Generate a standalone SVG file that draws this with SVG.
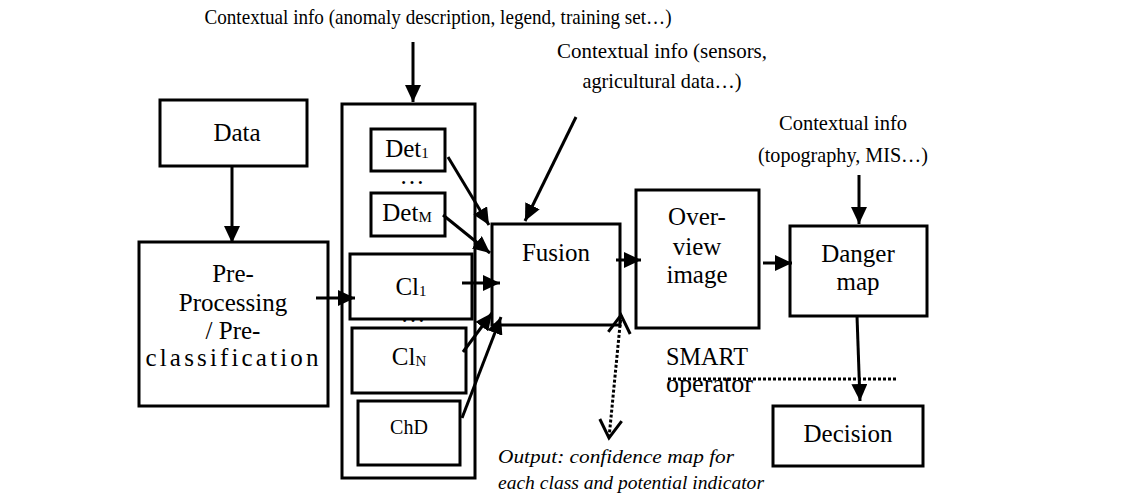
<svg xmlns="http://www.w3.org/2000/svg" width="1145" height="497" viewBox="0 0 1145 497">
<defs>
<style>
.box{fill:#fff;stroke:#000;stroke-width:3}
.frame{fill:none;stroke:#000;stroke-width:3}
.t{font-family:"Liberation Serif","Times New Roman",serif;font-size:25px;fill:#000;text-anchor:middle}
.c{font-family:"Liberation Serif","Times New Roman",serif;font-size:21.5px;fill:#000;text-anchor:middle}
.i{font-family:"Liberation Serif","Times New Roman",serif;font-size:19.5px;font-style:italic;fill:#000}
.ln{fill:none;stroke:#000;stroke-width:3}
.dot{fill:none;stroke:#000;stroke-width:3;stroke-dasharray:3 2}
.sub{font-size:15px}
</style>
<marker id="ah" markerUnits="userSpaceOnUse" markerWidth="18" markerHeight="16" refX="17" refY="8" orient="auto">
<path d="M0,0 L17,8 L0,16 z" fill="#000"/>
</marker>
<marker id="oh" markerUnits="userSpaceOnUse" markerWidth="24" markerHeight="26" refX="20" refY="13" orient="auto">
<path d="M2,2 L20,13 L2,24" fill="none" stroke="#000" stroke-width="3"/>
</marker>
<marker id="ohs" markerUnits="userSpaceOnUse" markerWidth="24" markerHeight="26" refX="4" refY="13" orient="auto">
<path d="M22,2 L4,13 L22,24" fill="none" stroke="#000" stroke-width="3"/>
</marker>
</defs>
<rect width="1145" height="497" fill="#fff"/>

<g id="ctx-top">
<text class="c" x="438" y="24" textLength="467" lengthAdjust="spacingAndGlyphs">Contextual info (anomaly description, legend, training set…)</text>
</g>
<g id="ctx-sensors">
<text class="c" x="662" y="58" textLength="210" lengthAdjust="spacingAndGlyphs">Contextual info (sensors,</text>
<text class="c" x="662" y="88" textLength="159" lengthAdjust="spacingAndGlyphs">agricultural data…)</text>
</g>
<g id="ctx-topo">
<text class="c" x="843" y="130" textLength="128" lengthAdjust="spacingAndGlyphs">Contextual info</text>
<text class="c" x="843" y="162" textLength="170" lengthAdjust="spacingAndGlyphs">(topography, MIS…)</text>
</g>

<g id="data">
<rect class="box" x="160" y="100" width="147" height="66"/>
<text class="t" x="237" y="141">Data</text>
</g>
<g id="preprocessing">
<rect class="box" x="139" y="242" width="189" height="164"/>
<text class="t" x="233" y="282">Pre-</text>
<text class="t" x="233" y="311">Processing</text>
<text class="t" x="233" y="339">/ Pre-</text>
<text class="t" x="232" y="366" textLength="173" lengthAdjust="spacing">classification</text>
</g>

<g id="container">
<rect class="frame" x="342" y="104" width="133" height="374"/>
</g>
<g id="det1">
<rect class="box" x="371" y="129" width="74" height="42"/>
<text class="t" x="407" y="157">Det<tspan class="sub" dy="1">1</tspan></text>
</g>
<text class="t" x="412" y="184">…</text>
<g id="detM">
<rect class="box" x="371" y="193" width="74" height="43"/>
<text class="t" x="407" y="221">Det<tspan class="sub" dy="1">M</tspan></text>
</g>
<g id="cl1">
<rect class="box" x="350" y="254" width="122" height="65"/>
<text class="t" x="411" y="295">Cl<tspan class="sub" dy="1">1</tspan></text>
</g>
<text class="t" x="413" y="322">…</text>
<g id="clN">
<rect class="box" x="352" y="328" width="114" height="65"/>
<text class="t" x="409" y="365">Cl<tspan class="sub" dy="1">N</tspan></text>
</g>
<g id="chd">
<rect class="box" x="358" y="401" width="102" height="64"/>
<text class="t" x="409" y="434" style="font-size:20px">ChD</text>
</g>

<g id="fusion">
<rect class="box" x="492" y="224" width="128" height="101"/>
<text class="t" x="556" y="261">Fusion</text>
</g>
<g id="overview">
<rect class="box" x="636" y="190" width="123" height="138"/>
<text class="t" x="697" y="225">Over-</text>
<text class="t" x="697" y="255">view</text>
<text class="t" x="697" y="283">image</text>
</g>
<g id="danger">
<rect class="box" x="790" y="226" width="137" height="90"/>
<text class="t" x="858" y="262">Danger</text>
<text class="t" x="858" y="290">map</text>
</g>
<g id="decision">
<rect class="box" x="773" y="406" width="150" height="60"/>
<text class="t" x="848" y="442">Decision</text>
</g>

<g id="smart">
<text class="t" x="666" y="365" style="text-anchor:start" textLength="82" lengthAdjust="spacingAndGlyphs">SMART</text>
<text class="t" x="666" y="392" style="text-anchor:start" textLength="87" lengthAdjust="spacingAndGlyphs">operator</text>
</g>
<g id="output">
<text class="i" x="498" y="463" textLength="236" lengthAdjust="spacingAndGlyphs">Output: confidence map for</text>
<text class="i" x="498" y="489" textLength="266" lengthAdjust="spacingAndGlyphs">each class and potential indicator</text>
</g>

<g id="connectors">
<line class="ln" x1="413" y1="42" x2="413" y2="102" marker-end="url(#ah)"/>
<line class="ln" x1="232" y1="166" x2="232" y2="243" marker-end="url(#ah)"/>
<line class="ln" x1="316" y1="298" x2="355" y2="298" marker-end="url(#ah)"/>
<line class="ln" x1="448" y1="157" x2="489" y2="225" marker-end="url(#ah)"/>
<line class="ln" x1="443" y1="215" x2="490" y2="253" marker-end="url(#ah)"/>
<line class="ln" x1="462" y1="283" x2="500" y2="283" marker-end="url(#ah)"/>
<line class="ln" x1="463" y1="352" x2="492" y2="313" marker-end="url(#ah)"/>
<line class="ln" x1="462" y1="418" x2="501" y2="317" marker-end="url(#ah)"/>
<line class="ln" x1="576" y1="117" x2="525" y2="221" marker-end="url(#ah)"/>
<line class="ln" x1="616" y1="260" x2="641" y2="260" marker-end="url(#ah)"/>
<line class="ln" x1="763" y1="263" x2="792" y2="263" marker-end="url(#ah)"/>
<line class="ln" x1="859" y1="175" x2="859" y2="224" marker-end="url(#ah)"/>
<line class="ln" x1="857" y1="316" x2="860" y2="401" marker-end="url(#ah)"/>
<line class="dot" x1="668" y1="379" x2="898" y2="379"/>
<line class="dot" x1="621" y1="315" x2="609" y2="438" marker-start="url(#ohs)" marker-end="url(#oh)"/>
</g>
</svg>
